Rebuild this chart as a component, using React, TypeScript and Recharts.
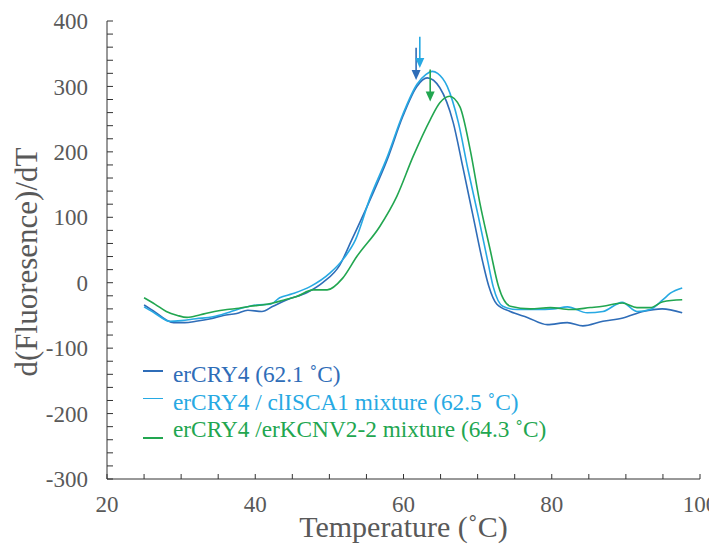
import React from "react";
import {
  LineChart,
  Line,
  XAxis,
  YAxis,
  Legend,
  ReferenceLine,
} from "recharts";

// erCRY4
const cryTemps = [25, 26.5, 28, 29, 30.5, 32, 34, 35.7, 37.5, 39, 40.9, 42.4, 44.3, 47, 49.1, 51.4, 53, 55.5, 57.8, 59.9, 61.8, 63.2, 64.9, 66.7, 68, 69.4, 70.7, 71.5, 72.6, 74.4, 76.7, 79.4, 82.1, 84.2, 86.9, 89.6, 92.3, 94.9, 97.6];
const cryValues = [-34, -45, -57, -61, -61, -59, -55, -50, -47, -42, -44, -36, -26, -15, 0, 27, 65, 127, 188, 254, 300, 313, 298, 245, 177, 101, 31, -5, -33, -44, -53, -64, -61, -66, -59, -54, -44, -40, -46];

// erCRY4 / clISCA1 mixture
const iscaTemps = [25, 26.5, 28.5, 30, 32, 34.3, 36.5, 38.5, 40.2, 42, 43.3, 45, 47.4, 50.1, 52, 53.5, 55.5, 57.8, 59.9, 61.8, 63, 63.9, 64.6, 65.9, 67.4, 68.7, 70.1, 71.4, 72.1, 73.4, 75.3, 78, 80.2, 82.1, 84.8, 86.9, 89.5, 91.5, 93.3, 95, 96, 97.6];
const iscaValues = [-37, -47, -59, -58, -55, -52, -45, -38, -34, -33, -23, -17, -6, 15, 38, 65, 130, 192, 257, 303, 318, 323, 320, 300, 245, 173, 101, 31, -6, -36, -41, -41, -40, -37, -46, -44, -30, -44, -41, -26, -16, -8];

// erCRY4 / erKCNV2-2 mixture
const kcnvTemps = [25, 26.5, 28, 29.5, 30.8, 32.6, 34.5, 36.2, 37.8, 39.3, 40.9, 42.4, 44, 45.6, 47.8, 49.7, 51.8, 53.7, 56.8, 59.1, 61.3, 63.6, 64.9, 66.2, 67.6, 69, 70.3, 71.7, 72.8, 74.4, 77.1, 79.8, 82.5, 85.2, 86.9, 89.5, 91.5, 93.3, 95, 97.6];
const kcnvValues = [-23, -33, -44, -50, -53, -49, -44, -41, -39, -36, -34, -31, -26, -21, -11, -11, 7, 40, 86, 132, 193, 249, 275, 285, 269, 203, 122, 50, -5, -36, -40, -38, -41, -38, -36, -31, -38, -38, -29, -26];

const seriesNames = [
  "erCRY4 (62.1 ˚C)",
  "erCRY4 / clISCA1 mixture (62.5 ˚C)",
  "erCRY4 /erKCNV2-2 mixture (64.3 ˚C)",
];
const seriesColors = ["#2f6db8", "#27a9e3", "#22a650"];

// peak arrows
const arrowX = [61.7, 62.2, 63.6];
const arrowTop = [359, 376, 326];
const arrowTip = [310, 328, 277];

const xTicks = [20, 25, 30, 35, 40, 45, 50, 55, 60, 65, 70, 75, 80, 85, 90, 95, 100];
const yTicks = [-300, -280, -260, -240, -220, -200, -180, -160, -140, -120, -100, -80, -60, -40, -20, 0, 20, 40, 60, 80, 100, 120, 140, 160, 180, 200, 220, 240, 260, 280, 300, 320, 340, 360, 380, 400];

const toPoints = (temps: number[], values: number[]) =>
  temps.map((t, i) => ({ t, v: values[i] }));

const seriesData = [
  toPoints(cryTemps, cryValues),
  toPoints(iscaTemps, iscaValues),
  toPoints(kcnvTemps, kcnvValues),
];

const FONT = "Liberation Serif";
const GREY = "#595959";

const Arrow = (props: any) => {
  const { x1, y1, x2, y2, stroke } = props;
  return (
    <g>
      <line x1={x1} y1={y1} x2={x2} y2={y2 - 8} stroke={stroke} strokeWidth={1.6} />
      <polygon points={`${x2 - 4.5},${y2 - 10} ${x2 + 4.5},${y2 - 10} ${x2},${y2}`} fill={stroke} />
    </g>
  );
};

const LegendBox = () => (
  <div style={{ fontFamily: FONT, fontSize: 23.3, lineHeight: "27.5px" }}>
    {seriesNames.map((name, i) => (
      <div key={name} style={{ position: "relative", paddingLeft: 30, color: seriesColors[i], whiteSpace: "nowrap" }}>
        <span
          style={{
            position: "absolute",
            left: 0,
            top: i === 2 ? 21 : 9,
            width: 20,
            height: 1.6,
            background: seriesColors[i],
          }}
        />
        {name}
      </div>
    ))}
  </div>
);

export default function App() {
  return (
    <div style={{ fontFamily: FONT }}>
      <style>{`.recharts-surface { overflow: visible; }`}</style>
      <LineChart
        width={709}
        height={539}
        margin={{ top: 13, right: 17, left: 0, bottom: 0 }}
      >
        <XAxis
          dataKey="t"
          type="number"
          domain={[20, 100]}
          ticks={xTicks}
          interval={0}
          height={68}
          tickSize={-5}
          tickMargin={22}
          tickFormatter={(v: number) => (v % 20 === 0 ? String(v) : "")}
          stroke="#333"
          tick={{ fill: GREY, fontSize: 23, fontFamily: FONT }}
          label={{
            content: ({ viewBox }: any) => (
              <text
                x={viewBox.x + viewBox.width / 2}
                y={viewBox.y + 58}
                textAnchor="middle"
                fill={GREY}
                fontSize={30}
                fontFamily={FONT}
              >
                Temperature (˚C)
              </text>
            ),
          }}
        />
        <YAxis
          type="number"
          domain={[-300, 400]}
          ticks={yTicks}
          interval={0}
          width={99}
          tickSize={-6}
          tickMargin={25}
          tickFormatter={(v: number) => (v % 100 === 0 ? String(v) : "")}
          stroke="#333"
          tick={{ fill: GREY, fontSize: 23, fontFamily: FONT }}
          label={{
            content: ({ viewBox }: any) => {
              const cx = viewBox.x + 29;
              const cy = viewBox.y + viewBox.height / 2 + 12;
              return (
                <text
                  x={cx}
                  y={cy}
                  transform={`rotate(-90, ${cx}, ${cy})`}
                  textAnchor="middle"
                  fill={GREY}
                  fontSize={31}
                  fontFamily={FONT}
                >
                  d(Fluoresence)/dT
                </text>
              );
            },
          }}
        />
        {seriesData.map((d, i) => (
          <Line
            key={seriesNames[i]}
            data={d}
            dataKey="v"
            name={seriesNames[i]}
            type="monotone"
            stroke={seriesColors[i]}
            strokeWidth={1.6}
            dot={false}
            isAnimationActive={false}
          />
        ))}
        {arrowX.map((x, i) => (
          <ReferenceLine
            key={"arrow" + i}
            segment={[
              { x, y: arrowTop[i] },
              { x, y: arrowTip[i] },
            ]}
            stroke={seriesColors[i]}
            shape={Arrow}
          />
        ))}
        <Legend
          layout="vertical"
          align="center"
          verticalAlign="middle"
          wrapperStyle={{ left: 135, top: 353, width: "auto" }}
          content={() => <LegendBox />}
        />
      </LineChart>
    </div>
  );
}
